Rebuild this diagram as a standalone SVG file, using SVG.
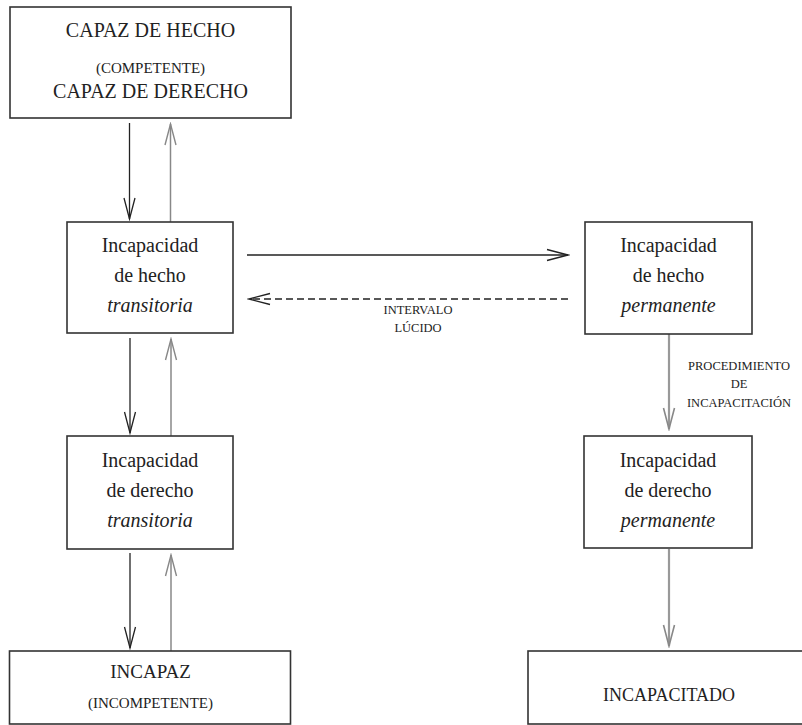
<svg xmlns="http://www.w3.org/2000/svg" width="802" height="725" viewBox="0 0 802 725">
<defs>
<style>
.box{fill:#fff;stroke:#333;stroke-width:1.6}
text{font-family:'Liberation Serif','Times New Roman','DejaVu Serif',serif;fill:#222;text-anchor:middle}
.l20{font-size:20px}
.l15{font-size:15px}
.lab{font-size:12.5px}
.it{font-style:italic}
.blk{stroke:#222;stroke-width:1.3;fill:none}
.gry{stroke:#888;stroke-width:1.5;fill:none}
.gry2{stroke:#999;stroke-width:2.2;fill:none}
</style>
<marker id="ab" markerUnits="userSpaceOnUse" viewBox="0 0 24 14" refX="22" refY="7" markerWidth="24" markerHeight="14" orient="auto">
<path d="M1,1.5 L22,7 L1,12.5" fill="none" stroke="#222" stroke-width="1.3"/>
</marker>
<marker id="ag" markerUnits="userSpaceOnUse" viewBox="0 0 24 14" refX="22" refY="7" markerWidth="24" markerHeight="14" orient="auto">
<path d="M1,1.5 L22,7 L1,12.5" fill="none" stroke="#888" stroke-width="1.4"/>
</marker>
<marker id="ag2" markerUnits="userSpaceOnUse" viewBox="0 0 24 14" refX="22" refY="7" markerWidth="24" markerHeight="14" orient="auto">
<path d="M1,1.5 L22,7 L1,12.5" fill="none" stroke="#888" stroke-width="1.6"/>
</marker>
</defs>
<rect width="802" height="725" fill="#fff"/>

<g id="connectors">
<line class="blk" x1="129.5" y1="123" x2="129.5" y2="219" marker-end="url(#ab)"/>
<line class="gry" x1="170.5" y1="222" x2="170.5" y2="124" marker-end="url(#ag)"/>
<line class="blk" x1="130" y1="338" x2="130" y2="433" marker-end="url(#ab)"/>
<line class="gry" x1="171" y1="436" x2="171" y2="339" marker-end="url(#ag)"/>
<line class="blk" x1="130" y1="553" x2="130" y2="648" marker-end="url(#ab)"/>
<line class="gry" x1="171" y1="651" x2="171" y2="555" marker-end="url(#ag)"/>
<line class="blk" x1="247" y1="255" x2="568" y2="255" marker-end="url(#ab)"/>
<line class="blk" x1="568" y1="299" x2="249" y2="299" stroke-dasharray="7,4" marker-end="url(#ab)"/>
<line class="gry2" x1="669" y1="334" x2="669" y2="429" marker-end="url(#ag2)"/>
<line class="gry2" x1="669" y1="549" x2="669" y2="646" marker-end="url(#ag2)"/>
<text class="lab" x="418" y="314" font-family="Liberation Serif, serif">INTERVALO</text>
<text class="lab" x="418" y="332" font-family="Liberation Serif, serif">LÚCIDO</text>
<text class="lab" x="739" y="370" font-family="Liberation Serif, serif">PROCEDIMIENTO</text>
<text class="lab" x="739" y="388" font-family="Liberation Serif, serif">DE</text>
<text class="lab" x="739" y="407" font-family="Liberation Serif, serif">INCAPACITACIÓN</text>
</g>

<g id="capaz">
<rect class="box" x="10" y="7" width="281" height="111"/>
<text class="l20" x="150.5" y="37">CAPAZ DE HECHO</text>
<text class="l15" x="150.5" y="73">(COMPETENTE)</text>
<text class="l20" x="150.5" y="98">CAPAZ DE DERECHO</text>
</g>

<g id="inc-hecho-trans">
<rect class="box" x="67" y="222" width="166" height="111"/>
<text class="l20" x="150" y="252">Incapacidad</text>
<text class="l20" x="150" y="282">de hecho</text>
<text class="l20 it" x="150" y="312">transitoria</text>
</g>

<g id="inc-hecho-perm">
<rect class="box" x="585" y="222" width="167" height="112"/>
<text class="l20" x="668.5" y="252">Incapacidad</text>
<text class="l20" x="668.5" y="282">de hecho</text>
<text class="l20 it" x="668.5" y="312">permanente</text>
</g>

<g id="inc-derecho-trans">
<rect class="box" x="67" y="436" width="166" height="113"/>
<text class="l20" x="150" y="467">Incapacidad</text>
<text class="l20" x="150" y="497">de derecho</text>
<text class="l20 it" x="150" y="527">transitoria</text>
</g>

<g id="inc-derecho-perm">
<rect class="box" x="584" y="436" width="168" height="112"/>
<text class="l20" x="668" y="467">Incapacidad</text>
<text class="l20" x="668" y="497">de derecho</text>
<text class="l20 it" x="668" y="527">permanente</text>
</g>

<g id="incapaz">
<rect class="box" x="9.5" y="651" width="281" height="73"/>
<text font-size="19" x="150.5" y="678">INCAPAZ</text>
<text class="l15" x="150.5" y="708">(INCOMPETENTE)</text>
</g>

<g id="incapacitado">
<rect class="box" x="528" y="651" width="282" height="73"/>
<text font-size="18" x="669" y="701">INCAPACITADO</text>
</g>
</svg>
